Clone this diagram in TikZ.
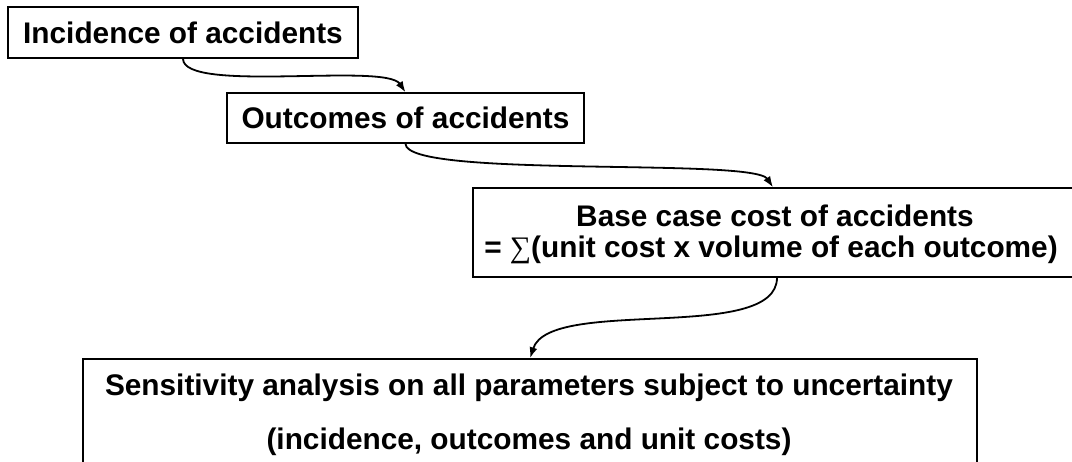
\documentclass[tikz,border=0pt]{standalone}
\usepackage{fontspec}
\setmainfont{Liberation Sans}
\newfontfamily\symfont{Liberation Serif}
\usetikzlibrary{arrows.meta}
\begin{document}
\begin{tikzpicture}[x=1pt,y=1pt,
  lab/.style={font=\fontsize{29.8}{36}\selectfont\bfseries},
  box/.style={draw, line width=1.4pt, inner sep=0pt, lab},
  txt/.style={lab, inner sep=0pt, anchor=base},
  arr/.style={line width=1.8pt, -{Latex[length=11pt,width=8pt]}}]
\useasboundingbox (0,0) rectangle (1072,-461);
\node[box, minimum width=350pt, minimum height=51pt] (b1) at (183,-32.5) {Incidence of accidents};
\node[box, minimum width=357pt, minimum height=50pt] (b2) at (405.5,-118) {Outcomes of accidents};
\node[box, minimum width=604pt, minimum height=89pt] (b3) at (775,-232.5) {};
\node[box, minimum width=894pt, minimum height=131pt] (b4) at (530,-424.5) {};
\node[txt] (t3a) at (775,-226) {Base case cost of accidents};
\node[txt] (t3b) at (771,-257) {= {\symfont\mdseries ∑}(unit cost x volume of each outcome)};
\node[txt] (t4a) at (529,-395) {Sensitivity analysis on all parameters subject to uncertainty};
\node[txt] (t4b) at (529,-449) {(incidence, outcomes and unit costs)};
\draw[arr] (b1.south) .. controls +(0,-35) and +(-20,30) .. (b2.north);
\draw[arr] (b2.south) .. controls +(0,-35) and +(-20,30) .. ([xshift=-2pt]b3.north);
\draw[arr] ([xshift=2pt]b3.south) .. controls +(0,-66) and +(20,62) .. (b4.north);
\end{tikzpicture}
\end{document}
